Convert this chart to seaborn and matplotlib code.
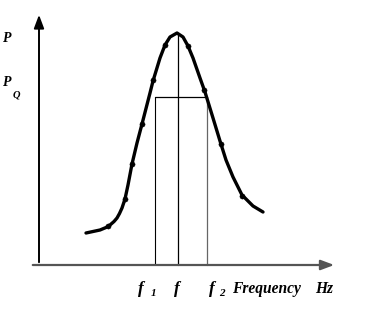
import matplotlib
matplotlib.use("Agg")
import matplotlib.pyplot as plt
import seaborn as sns
import pandas as pd

# traced resonance curve (frequency, power), arbitrary units
curve_freq = [4.7, 6.1, 6.7, 7.1, 7.5, 7.8, 8.05, 8.3, 8.6, 8.9, 9.3, 9.8, 10.3, 11.1, 11.4, 12.1, 12.6,
              13.1, 13.8, 14.4, 14.9, 15.4, 16.1, 16.6, 17.4, 18.1, 18.7, 19.4, 20.3, 21.4, 22.4]
curve_power = [3.2, 3.5, 3.75, 4.0, 4.35, 4.7, 5.15, 5.7, 6.6, 8.0, 10.1, 12.2, 14.1, 17.2, 18.4, 20.7, 22.0,
               22.8, 23.2, 22.8, 21.9, 20.7, 18.7, 17.3, 14.7, 12.4, 10.5, 8.8, 7.0, 5.9, 5.3]

# measured points on the curve
pts_freq = [6.9, 8.6, 9.3, 10.3, 11.4, 12.6, 14.9, 16.5, 18.2, 20.3]
pts_power = [3.9, 6.6, 10.1, 14.1, 18.5, 22.0, 21.9, 17.5, 12.1, 6.9]

f1, f0, f2 = 11.55, 13.9, 16.75
p_q = 16.8
p_peak = 23.2

sns.set_style("white")
fig = plt.figure(figsize=(3.89, 3.17), dpi=100)
ax = fig.add_axes([0, 0, 1, 1])

serif = ["Liberation Serif", "DejaVu Serif"]
lab = dict(family=serif, fontweight="bold", fontstyle="italic", color="black")

# axes with arrows
ax.annotate("", xy=(29.8, 0), xytext=(-0.9, 0),
            arrowprops=dict(arrowstyle="-|>,head_length=0.8,head_width=0.3", color="#555555", lw=1.6))
ax.annotate("", xy=(0, 25.3), xytext=(0, 0),
            arrowprops=dict(arrowstyle="-|>,head_length=0.8,head_width=0.3", color="black", lw=1.4))

# bandwidth construction lines
ax.plot([f1, f2], [p_q, p_q], color="black", lw=0.9)
ax.plot([f1, f1], [0, p_q], color="black", lw=0.8)
ax.plot([f2, f2], [0, p_q], color="#666666", lw=0.9)
ax.plot([f0, f0], [0, p_peak], color="black", lw=0.9)

df = pd.DataFrame({"freq": curve_freq, "power": curve_power})
sns.lineplot(data=df, x="freq", y="power", sort=False, color="black", lw=2.4, ax=ax)
sns.scatterplot(x=pts_freq, y=pts_power, color="black", s=14, edgecolor="black", ax=ax, zorder=5)

ax.set_xlim(-3.9, 35.0)
ax.set_ylim(-5.2, 26.5)
ax.axis("off")

ax.text(-3.6, 22.6, "P", fontsize=10, ha="left", va="center", **lab)
ax.text(-3.6, 18.3, "P", fontsize=10, ha="left", va="center", **lab)
ax.text(-2.6, 17.0, "Q", fontsize=7.5, ha="left", va="center", **lab)

ax.text(10.2, -2.4, "f", fontsize=12.5, ha="center", va="center", **lab)
ax.text(11.5, -2.8, "1", fontsize=8, ha="center", va="center", **lab)
ax.text(13.8, -2.4, "f", fontsize=12.5, ha="center", va="center", **lab)
ax.text(17.3, -2.4, "f", fontsize=12.5, ha="center", va="center", **lab)
ax.text(18.3, -2.8, "2", fontsize=8, ha="center", va="center", **lab)
ax.text(19.3, -2.4, "Frequency", fontsize=11.2, ha="left", va="center", **lab)
ax.text(27.6, -2.4, "Hz", fontsize=11.2, ha="left", va="center", **lab)

fig.savefig("out.png", dpi=100, facecolor="white")
